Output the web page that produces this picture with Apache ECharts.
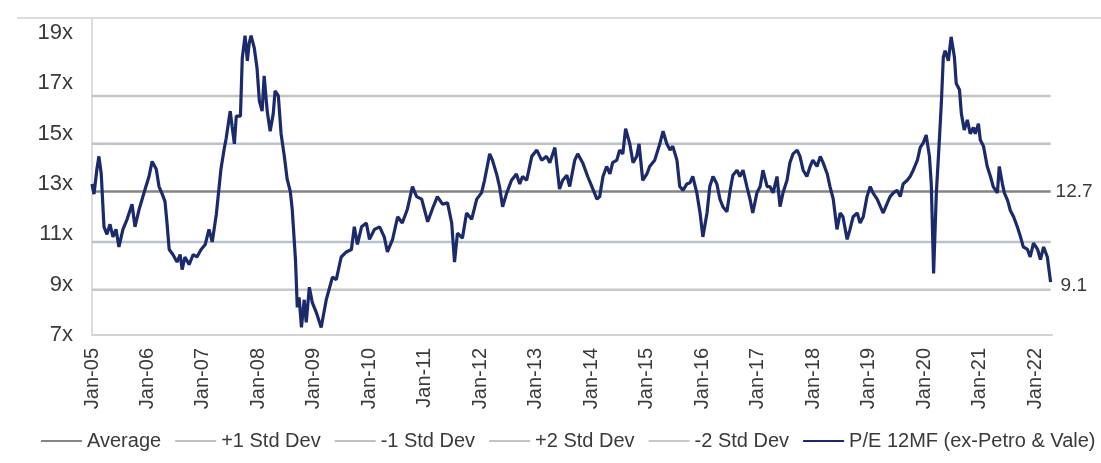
<!DOCTYPE html>
<html>
<head>
<meta charset="utf-8">
<script src="https://cdn.jsdelivr.net/npm/echarts@6/dist/echarts.min.js"></script>
<style>
html,body{margin:0;padding:0;background:#fff;}
#chart{width:1101px;height:463px;}
</style>
</head>
<body>
<div id="chart"></div>
<script>
// ---- data ----
const dates = [
'2005-01-01','2005-01-14','2005-02-03','2005-02-16','2005-03-01','2005-03-19','2005-04-08','2005-04-28','2005-05-17','2005-06-07',
'2005-06-26','2005-07-22','2005-08-19','2005-09-21','2005-10-10','2005-11-07','2005-12-16','2006-01-11','2006-02-01','2006-02-28',
'2006-03-16','2006-04-07','2006-04-25','2006-05-07','2006-05-22','2006-06-16','2006-07-13','2006-08-03','2006-08-16','2006-09-04',
'2006-10-01','2006-10-28','2006-11-22','2006-12-19','2007-01-16','2007-02-10','2007-03-01','2007-03-28','2007-04-28','2007-05-19',
'2007-06-01','2007-06-28','2007-07-10','2007-07-25','2007-08-07','2007-09-04','2007-09-16','2007-10-04','2007-10-19','2007-11-01',
'2007-11-13','2007-12-04','2007-12-22','2008-01-07','2008-01-25','2008-02-08','2008-02-28','2008-03-17','2008-04-07','2008-04-19',
'2008-05-10','2008-05-28','2008-06-19','2008-07-07','2008-07-28','2008-08-10','2008-09-01','2008-09-13','2008-09-25','2008-10-10',
'2008-10-28','2008-11-11','2008-12-01','2008-12-20','2009-01-16','2009-02-18','2009-03-21','2009-05-01','2009-05-26','2009-06-28',
'2009-08-01','2009-09-04','2009-09-23','2009-10-13','2009-11-10','2009-12-11','2010-01-01','2010-02-04','2010-03-07','2010-04-07',
'2010-04-28','2010-06-01','2010-07-04','2010-08-04','2010-09-07','2010-10-10','2010-11-07','2010-12-10','2011-01-19','2011-02-19',
'2011-03-22','2011-04-25','2011-05-28','2011-06-25','2011-07-13','2011-08-02','2011-09-04','2011-10-01','2011-11-04','2011-12-07',
'2012-01-08','2012-01-28','2012-03-01','2012-03-19','2012-04-16','2012-05-05','2012-05-25','2012-06-22','2012-07-23','2012-08-25',
'2012-09-16','2012-10-04','2012-11-01','2012-12-04','2013-01-07','2013-02-08','2013-03-10','2013-04-01','2013-05-04','2013-06-04',
'2013-06-25','2013-07-22','2013-08-10','2013-09-13','2013-10-02','2013-11-04','2013-12-07','2014-01-04','2014-02-07','2014-02-25',
'2014-03-16','2014-04-10','2014-05-01','2014-05-19','2014-06-16','2014-07-04','2014-07-25','2014-08-13','2014-09-10','2014-10-01',
'2014-10-25','2014-11-10','2014-12-04','2015-01-01','2015-01-19','2015-02-22','2015-03-25','2015-04-16','2015-05-10','2015-06-01',
'2015-06-19','2015-07-16','2015-08-04','2015-08-25','2015-09-20','2015-10-10','2015-10-29','2015-11-25','2015-12-16','2016-01-04',
'2016-02-01','2016-02-19','2016-03-10','2016-04-05','2016-04-25','2016-05-14','2016-06-10','2016-07-01','2016-07-19','2016-08-16',
'2016-09-04','2016-09-25','2016-10-20','2016-11-10','2016-11-28','2016-12-25','2017-01-16','2017-02-04','2017-03-01','2017-03-19',
'2017-04-10','2017-05-05','2017-05-25','2017-06-14','2017-07-10','2017-07-29','2017-08-19','2017-09-16','2017-10-04','2017-10-25',
'2017-11-19','2017-12-10','2017-12-28','2018-01-25','2018-02-16','2018-03-04','2018-04-01','2018-04-19','2018-05-10','2018-06-04',
'2018-06-25','2018-07-13','2018-08-10','2018-08-29','2018-09-19','2018-10-16','2018-11-04','2018-11-25','2018-12-19','2019-01-10',
'2019-01-28','2019-02-25','2019-03-16','2019-04-04','2019-05-01','2019-05-19','2019-06-10','2019-07-04','2019-07-25','2019-08-13',
'2019-09-10','2019-09-29','2019-10-19','2019-11-16','2019-12-04','2019-12-25','2020-01-13','2020-02-04','2020-02-16','2020-03-01',
'2020-03-19','2020-04-07','2020-04-22','2020-05-04','2020-05-16','2020-06-07','2020-06-25','2020-07-16','2020-07-28','2020-08-19',
'2020-09-01','2020-09-20','2020-10-10','2020-10-29','2020-11-19','2020-12-01','2020-12-22','2021-01-04','2021-01-25','2021-02-19',
'2021-03-10','2021-03-28','2021-04-25','2021-05-07','2021-05-28','2021-06-10','2021-07-01','2021-07-19','2021-08-10','2021-09-04',
'2021-09-25','2021-10-13','2021-11-10','2021-11-28','2021-12-19','2022-01-16','2022-02-04','2022-02-25','2022-03-19','2022-04-10'
];
const peValues = [
13.0,12.6,13.6,14.1,13.4,11.3,11.0,11.4,10.9,11.2,
10.5,11.2,11.6,12.2,11.3,12.0,12.8,13.3,13.9,13.6,
12.9,12.6,12.3,11.5,10.4,10.2,9.9,10.2,9.6,10.1,
9.8,10.2,10.1,10.4,10.6,11.2,10.7,11.8,13.6,14.4,
14.8,15.9,15.3,14.6,15.7,15.7,18.0,18.9,17.9,18.6,
18.9,18.4,17.6,16.3,15.9,17.3,15.9,15.1,15.8,16.7,
16.5,15.0,14.1,13.2,12.7,12.0,10.0,8.1,8.5,7.3,
8.4,7.5,8.9,8.3,7.9,7.3,8.4,9.3,9.2,10.1,
10.3,10.4,11.3,10.6,11.3,11.45,10.8,11.2,11.3,10.9,
10.3,10.8,11.7,11.45,12.0,12.9,12.5,12.4,11.5,12.0,
12.5,12.2,12.25,11.45,9.9,11.05,10.85,11.85,11.6,12.4,
12.65,13.15,14.2,13.95,13.4,12.9,12.1,12.65,13.15,13.4,
13.0,13.3,13.15,14.1,14.35,13.95,14.1,13.85,14.45,12.8,
13.15,13.35,12.9,13.95,14.2,13.85,13.3,12.9,12.4,12.5,
13.3,13.7,13.4,13.85,13.95,14.35,14.2,15.2,14.6,13.85,
14.1,14.6,13.15,13.4,13.7,13.95,14.6,15.1,14.6,14.35,
14.5,13.95,12.9,12.75,13.0,13.05,13.3,12.65,11.85,10.9,
11.85,12.9,13.3,13.0,12.4,12.1,11.9,12.75,13.35,13.55,
13.3,13.55,12.9,12.4,11.85,12.65,12.9,13.55,12.9,12.9,
12.65,13.3,12.1,12.65,13.15,13.85,14.2,14.35,14.1,13.55,
13.3,13.7,13.95,13.7,14.1,13.85,13.4,12.9,12.4,11.2,
11.85,11.7,10.8,11.2,11.7,11.85,11.45,11.7,12.5,12.9,
12.65,12.4,12.1,11.85,12.25,12.5,12.65,12.75,12.5,13.0,
13.15,13.3,13.55,13.95,14.45,14.65,14.95,14.1,13.0,9.45,
12.65,14.6,16.3,18.05,18.3,17.9,18.85,18.05,17.0,16.75,
15.8,15.15,15.55,15.0,15.25,15.0,15.4,14.75,14.5,13.7,
13.3,12.9,12.65,13.7,13.0,12.65,12.35,11.95,11.7,11.3,
10.9,10.5,10.4,10.1,10.65,10.4,10.0,10.5,10.1,9.1
];
const tickLabels = ['Jan-05','Jan-06','Jan-07','Jan-08','Jan-09','Jan-10','Jan-11','Jan-12','Jan-13',
                    'Jan-14','Jan-15','Jan-16','Jan-17','Jan-18','Jan-19','Jan-20','Jan-21','Jan-22'];
const yTicks = [7, 9, 11, 13, 15, 17, 19];
const averageValue = 12.7;
const plus1Value = 14.6;
const minus1Value = 10.7;
const plus2Value = 16.5;
const minus2Value = 8.8;
const seriesNames = ['Average', '+1 Std Dev', '-1 Std Dev', '+2 Std Dev', '-2 Std Dev', 'P/E 12MF (ex-Petro & Vale)'];

// ---- helpers ----
function toYear(s) {
  const p = s.split('-').map(Number);
  return p[0] + (p[1] - 1) / 12 + (p[2] - 1) / 365;
}
const firstYear = toYear(dates[0]);
const lastYear = toYear(dates[dates.length - 1]);
const peData = dates.map((d, i) => [toYear(d), peValues[i]]);
function flat(v) { return [[firstYear, v], [lastYear, v]]; }

const FONT = "'Liberation Sans', Arial, sans-serif";
const TXT = '#3a3a3a';

const chart = echarts.init(document.getElementById('chart'), null, {renderer: 'canvas'});

function bandSeries(name, value, color, width, withLabel) {
  return {
    name: name, type: 'line', data: flat(value), showSymbol: false, symbol: 'none',
    lineStyle: {color: color, width: width}, itemStyle: {color: color},
    silent: true, z: 2,
    endLabel: withLabel ? {
      show: true, formatter: () => value.toFixed(1), color: TXT,
      fontFamily: FONT, fontSize: 19, distance: 5
    } : {show: false}
  };
}

chart.setOption({
  animation: false,
  backgroundColor: '#fff',
  grid: {left: 92, right: 49, top: 18, bottom: 128, containLabel: false},
  graphic: [{
    type: 'line', silent: true, z: 0,
    shape: {x1: 17, y1: 18, x2: 1101, y2: 18},
    style: {stroke: '#dcdcdc', lineWidth: 2}
  }],
  legend: {
    data: seriesNames,
    left: 36, top: 426, width: 1065,
    icon: 'rect', itemWidth: 41, itemHeight: 2, itemGap: 14,
    textStyle: {fontFamily: FONT, fontSize: 20, color: TXT}
  },
  xAxis: {
    type: 'value', min: 2005, max: 2022.3, interval: 1,
    axisLine: {show: true, lineStyle: {color: '#d4d4d4', width: 2}},
    axisTick: {show: false},
    splitLine: {show: false},
    axisLabel: {
      rotate: 90, margin: 13, showMaxLabel: false,
      fontFamily: FONT, fontSize: 20, color: TXT,
      formatter: function (v) {
        const i = Math.round(v - 2005);
        return Math.abs(v - Math.round(v)) < 1e-6 && tickLabels[i] ? tickLabels[i] : '';
      }
    }
  },
  yAxis: {
    type: 'value', min: yTicks[0], max: 19.6, interval: 2,
    axisLine: {show: true, lineStyle: {color: '#dcdcdc', width: 2}},
    axisTick: {show: false},
    splitLine: {show: false},
    axisLabel: {
      margin: 19, showMaxLabel: false,
      fontFamily: FONT, fontSize: 22, color: TXT,
      formatter: function (v) { return yTicks.indexOf(v) >= 0 ? v + 'x' : ''; }
    }
  },
  series: [
    bandSeries(seriesNames[0], averageValue, '#858585', 2.5, true),
    bandSeries(seriesNames[1], plus1Value, '#bcc2c9', 2.5, false),
    bandSeries(seriesNames[2], minus1Value, '#bcc2c9', 2.5, false),
    bandSeries(seriesNames[3], plus2Value, '#c4c4c4', 2.5, false),
    bandSeries(seriesNames[4], minus2Value, '#c8c8c8', 2.5, false),
    {
      name: seriesNames[5], type: 'line', data: peData, showSymbol: false, symbol: 'none',
      lineStyle: {color: '#1b2a6b', width: 3.2}, itemStyle: {color: '#1b2a6b'}, z: 5,
      endLabel: {
        show: true, color: TXT, fontFamily: FONT, fontSize: 19, distance: 10, offset: [0, 4],
        formatter: p => p.value[1].toFixed(1)
      }
    }
  ]
});
</script>
</body>
</html>
